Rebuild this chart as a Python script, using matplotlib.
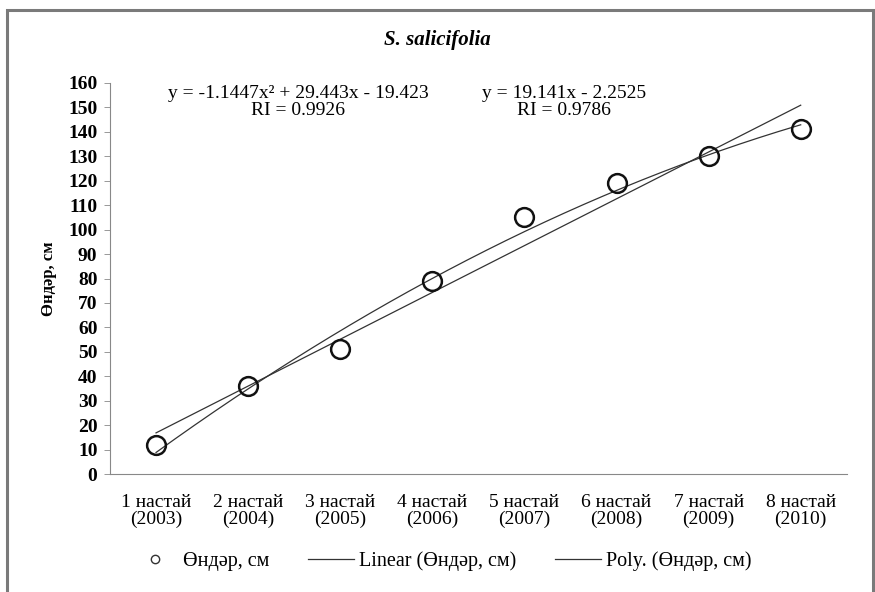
import numpy as np
import matplotlib
matplotlib.use("Agg")
import matplotlib.pyplot as plt
from matplotlib.lines import Line2D
from matplotlib.patches import Rectangle

# Data
categories = ["1 настай\n(2003)", "2 настай\n(2004)", "3 настай\n(2005)", "4 настай\n(2006)",
              "5 настай\n(2007)", "6 настай\n(2008)", "7 настай\n(2009)", "8 настай\n(2010)"]
heights = [12, 36, 51, 79, 105, 119, 130, 141]
yticks = list(range(0, 161, 10))

# Trendline coefficients as printed on the chart
lin_coef = [19.141, -2.2525]
poly_coef = [-1.1447, 29.443, -19.423]

plt.rcParams["font.family"] = ["Liberation Serif", "DejaVu Serif"]

fig = plt.figure(figsize=(8.75, 5.92), dpi=100)
ax = fig.add_axes([0.1257, 0.199, 0.842, 0.661])

x = np.arange(1, len(heights) + 1)
xs = np.linspace(1, len(heights), 200)

ax.plot(xs, np.polyval(lin_coef, xs), color="#333333", lw=0.9)
ax.plot(xs, np.polyval(poly_coef, xs), color="#333333", lw=0.9)
ax.plot(x, heights, linestyle="none", marker="o", markersize=13.5,
        markerfacecolor="none", markeredgecolor="#111111", markeredgewidth=1.8)

ax.set_xlim(0.5, len(heights) + 0.5)
ax.set_ylim(0, 160)
ax.set_yticks(yticks)
ax.set_yticklabels([str(t) for t in yticks], fontsize=14, fontweight="bold")
ax.set_xticks(x)
ax.set_xticklabels(categories, fontsize=14, linespacing=1.0)
ax.tick_params(axis="x", length=0, pad=14)
ax.tick_params(axis="y", length=4, width=0.6, color="#888888", pad=5)
for side in ("top", "right"):
    ax.spines[side].set_visible(False)
for side in ("left", "bottom"):
    ax.spines[side].set_color("#888888")
    ax.spines[side].set_linewidth(0.8)

ax.set_ylabel("Өндәр, см", fontsize=12, fontweight="bold", labelpad=8)

fig.text(0.5, 0.932, "S. salicifolia", ha="center", va="center",
         fontsize=15, style="italic", fontweight="bold")

fig.text(0.341, 0.827, "y = -1.1447x² + 29.443x - 19.423\nRI = 0.9926",
         ha="center", va="center", fontsize=14, linespacing=1.0)
fig.text(0.645, 0.827, "y = 19.141x - 2.2525\nRI = 0.9786",
         ha="center", va="center", fontsize=14, linespacing=1.0)

handles = [
    Line2D([], [], linestyle="none", marker="o", markersize=6,
           markerfacecolor="none", markeredgecolor="#333333", markeredgewidth=1),
    Line2D([], [], color="#333333", lw=0.9),
    Line2D([], [], color="#333333", lw=0.9),
]
labels = ["Өндәр, см", "Linear (Өндәр, см)", "Poly. (Өндәр, см)"]
fig.legend(handles, labels, loc="center", bbox_to_anchor=(0.505, 0.052), ncol=3,
           frameon=False, fontsize=14.5, handlelength=2.3, columnspacing=1.9,
           handletextpad=0.25)

# outer chart frame
fig.patches.append(Rectangle((7 / 875, -0.05), 866 / 875, 1.05 - 10 / 592,
                             transform=fig.transFigure, fill=False,
                             edgecolor="#7a7a7a", linewidth=2.2))

fig.savefig("out.png", dpi=100)
